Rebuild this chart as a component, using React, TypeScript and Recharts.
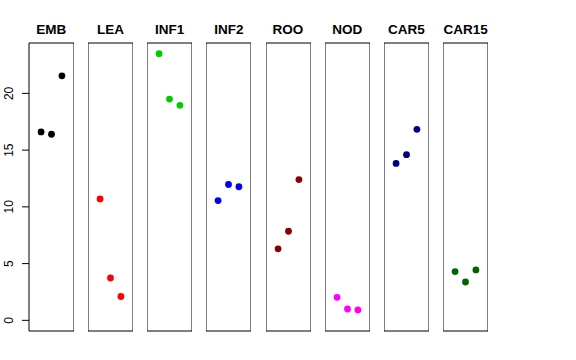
import React from "react";
import {
  ScatterChart,
  Scatter,
  XAxis,
  YAxis,
  ReferenceArea,
} from "recharts";

const groups = ["EMB", "LEA", "INF1", "INF2", "ROO", "NOD", "CAR5", "CAR15"];
const colors = [
  "#000000",
  "#FF0000",
  "#00CD00",
  "#0000FF",
  "#8B0000",
  "#FF00FF",
  "#000080",
  "#006400",
];
const values = [
  [16.6, 16.4, 21.55],
  [10.7, 3.73, 2.1],
  [23.5, 19.5, 18.95],
  [10.55, 11.97, 11.77],
  [6.3, 7.85, 12.4],
  [2.03, 1.0, 0.92],
  [13.83, 14.6, 16.83],
  [4.3, 3.38, 4.44],
];
const yTicks = [0, 5, 10, 15, 20];

const yMin = 0;
const yMax = 23.5;
const yPad = (yMax - yMin) * 0.04;
const yDomain: [number, number] = [yMin - yPad, yMax + yPad];
const xDomain: [number, number] = [0 - 0.16, 4 + 0.16];

const PANEL_W = 45;
const PANEL_H = 360;
const FIRST_LEFT = 28.7;
const STEP = 59.2;
const AXIS_W = 29;

const Dot = (color: string) => (props: any) =>
  <circle cx={props.cx} cy={props.cy} r={3.4} fill={color} />;

const renderTick = ({ x, y, payload }: any) => (
  <text
    x={x - 7}
    y={y}
    transform={`rotate(-90, ${x - 7}, ${y})`}
    textAnchor="middle"
    fontSize={12}
    fill="#000"
    fontFamily="'Liberation Sans', Arial, sans-serif"
  >
    {payload.value}
  </text>
);

function Panel({ idx }: { idx: number }) {
  const first = idx === 0;
  const data = values[idx].map((v, i) => ({ x: i + 1, y: v }));
  const width = PANEL_W + (first ? AXIS_W : 0);
  const left = FIRST_LEFT + idx * STEP - (first ? AXIS_W : 0);
  return (
    <div style={{ position: "absolute", left, top: 0 }}>
      <ScatterChart
        width={width}
        height={PANEL_H}
        margin={{ top: 43, bottom: 29, left: 0, right: 0 }}
      >
        <XAxis type="number" dataKey="x" domain={xDomain} hide />
        <YAxis
          type="number"
          dataKey="y"
          domain={yDomain}
          allowDataOverflow
          hide={!first}
          width={AXIS_W}
          ticks={yTicks}
          tickSize={7}
          tick={renderTick}
          stroke="#000"
          tickLine={{ stroke: "#000" }}
          axisLine={false}
        />
        <ReferenceArea
          x1={xDomain[0]}
          x2={xDomain[1]}
          y1={yDomain[0]}
          y2={yDomain[1]}
          fill="none"
          stroke="#000"
          strokeWidth={1}
          ifOverflow="visible"
        />
        <Scatter
          data={data}
          isAnimationActive={false}
          shape={Dot(colors[idx])}
        />
      </ScatterChart>
    </div>
  );
}

export default function App() {
  return (
    <div
      style={{
        position: "absolute",
        left: 0,
        top: 0,
        width: 576,
        height: 360,
        background: "#fff",
      }}
    >
      {groups.map((g, i) => (
        <Panel key={g} idx={i} />
      ))}
      <svg
        width={576}
        height={40}
        style={{ position: "absolute", left: 0, top: 0 }}
      >
        {groups.map((g, i) => (
          <text
            key={g}
            x={FIRST_LEFT + i * STEP + PANEL_W / 2}
            y={34}
            textAnchor="middle"
            fontSize={13.5}
            fontWeight="bold"
            fontFamily="'Liberation Sans', Arial, sans-serif"
          >
            {g}
          </text>
        ))}
      </svg>
    </div>
  );
}
